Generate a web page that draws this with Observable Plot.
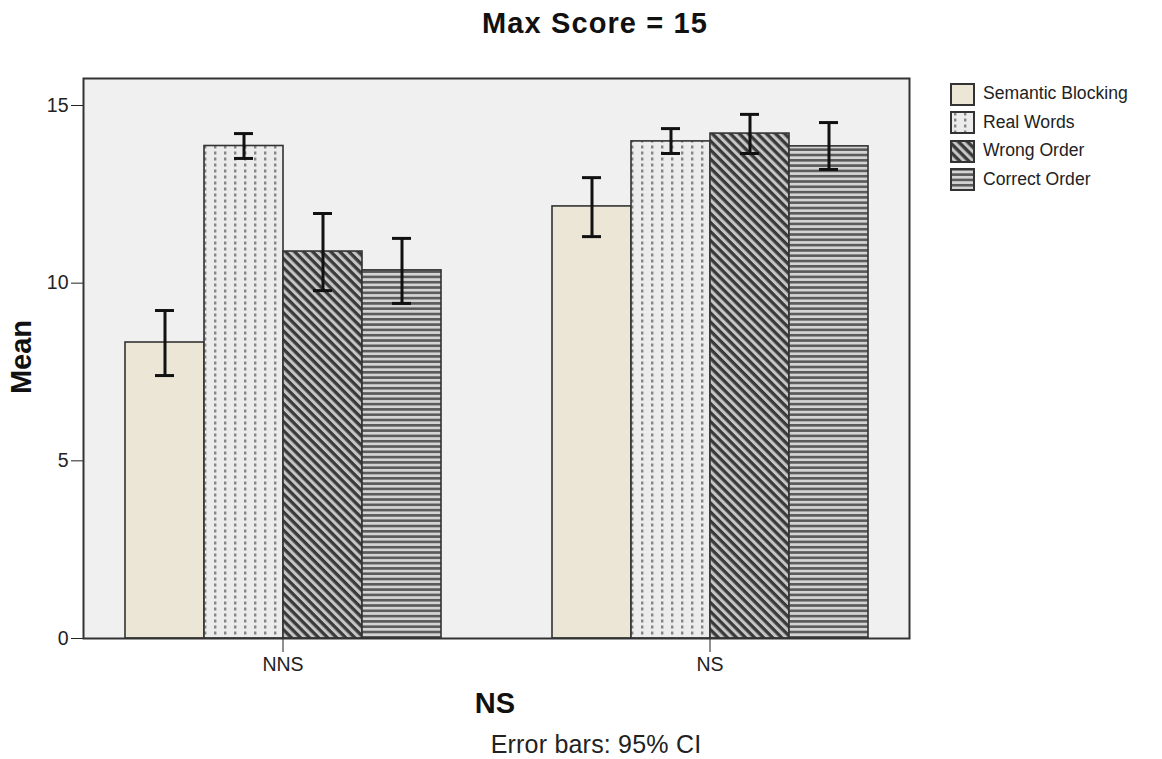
<!DOCTYPE html>
<html>
<head>
<meta charset="utf-8">
<script src="https://cdn.jsdelivr.net/npm/d3@7"></script>
<script src="https://cdn.jsdelivr.net/npm/@observablehq/plot@0.6"></script>
<style>
  html, body { margin: 0; padding: 0; background: #fff; }
  body { font-family: 'Liberation Sans', Arial, sans-serif; color: #222; }
  #wrap { position: relative; width: 1162px; height: 759px; overflow: hidden; }
  #chart { position: absolute; left: 0; top: 0; }
  .lab { position: absolute; transform: translate(-50%, -50%); line-height: 1; white-space: nowrap; }
  #title { left: 595px; top: 23px; font-size: 29px; font-weight: bold; letter-spacing: 1.1px; color: #111; }
  #xlab { left: 495px; top: 703px; font-size: 29px; font-weight: bold; color: #111; }
  #ylab { left: 21px; top: 357px; font-size: 29px; font-weight: bold; color: #111; transform: translate(-50%, -50%) rotate(-90deg); }
  #caption { left: 596px; top: 744px; font-size: 25px; letter-spacing: 0.2px; color: #222; }
  #legend { position: absolute; left: 950px; top: 80px; }
  .row { display: flex; align-items: center; height: 28.5px; }
  .row svg { display: block; margin-right: 8px; }
  .row span { font-size: 17.6px; line-height: 1; color: #222; }
</style>
</head>
<body>
<svg width="0" height="0" style="position:absolute">
  <defs>
    <pattern id="dots" patternUnits="userSpaceOnUse" width="10" height="6">
      <rect width="10" height="6" fill="#ececec"/>
      <rect x="4" y="1.5" width="2.4" height="3" fill="#858585"/>
    </pattern>
    <pattern id="diag" patternUnits="userSpaceOnUse" width="6.4" height="6.4" patternTransform="rotate(45)">
      <rect width="6.4" height="6.4" fill="#c6c6c6"/>
      <rect width="6.4" height="3.3" fill="#3a3a3a"/>
    </pattern>
    <pattern id="horiz" patternUnits="userSpaceOnUse" width="8" height="5.3">
      <rect width="8" height="5.3" fill="#d4d4d4"/>
      <rect width="8" height="2.6" fill="#5a5a5a"/>
    </pattern>
  </defs>
</svg>
<div id="wrap">
  <div id="chart"></div>
  <div id="title" class="lab">Max Score = 15</div>
  <div id="xlab" class="lab">NS</div>
  <div id="ylab" class="lab">Mean</div>
  <div id="caption" class="lab">Error bars: 95% CI</div>
  <div id="legend"></div>
</div>
<script>
const groups = ["NNS", "NS"];
const conditions = ["Semantic Blocking", "Real Words", "Wrong Order", "Correct Order"];
const meanNNS = [8.33, 13.86, 10.89, 10.36];
const lowNNS  = [7.40, 13.51, 9.79, 9.43];
const highNNS = [9.23, 14.21, 11.96, 11.26];
const meanNS  = [12.16, 13.99, 14.21, 13.85];
const lowNS   = [11.31, 13.65, 13.65, 13.20];
const highNS  = [12.97, 14.35, 14.75, 14.52];
const yTicks = [0, 5, 10, 15];
const fills = ["#ebe6d5", "url(#dots)", "url(#diag)", "url(#horiz)"];

const means = [meanNNS, meanNS], lows = [lowNNS, lowNS], highs = [highNNS, highNS];
const rows = groups.flatMap((g, gi) => conditions.map((c, ci) => ({
  group: g, condition: c, mean: means[gi][ci], lo: lows[gi][ci], hi: highs[gi][ci]
})));

const chart = Plot.plot({
  width: 930,
  height: 759,
  marginTop: 78,
  marginBottom: 121,
  marginLeft: 83,
  marginRight: 21,
  style: {fontFamily: "'Liberation Sans', Arial, sans-serif", fontSize: "19.5px", color: "#222", background: "transparent", overflow: "visible"},
  facet: {data: rows, x: "group"},
  fx: {domain: groups, axis: "bottom", paddingInner: 0.066, paddingOuter: 0, tickSize: 14, tickPadding: 5, label: null},
  x: {domain: conditions, paddingInner: 0, paddingOuter: 0.525, axis: null},
  y: {domain: [0, 15.76], ticks: yTicks, tickSize: 12, tickPadding: 3, label: null},
  color: {type: "ordinal", domain: conditions, range: fills},
  marks: [
    Plot.frame({facet: "super", fill: "#f0f0f0"}),
    Plot.barY(rows, {x: "condition", y: "mean", fill: "condition", stroke: "#333", strokeWidth: 1.6}),
    Plot.ruleX(rows, {x: "condition", y1: "lo", y2: "hi", stroke: "#111", strokeWidth: 3}),
    Plot.tickY(rows, {x: "condition", y: "hi", insetLeft: 30, insetRight: 30, stroke: "#111", strokeWidth: 3}),
    Plot.tickY(rows, {x: "condition", y: "lo", insetLeft: 30, insetRight: 30, stroke: "#111", strokeWidth: 3}),
    Plot.frame({facet: "super", stroke: "#333", strokeWidth: 2})
  ]
});
document.getElementById("chart").appendChild(chart);

const legend = d3.select("#legend");
conditions.forEach((c, i) => {
  const row = legend.append("div").attr("class", "row");
  const s = row.append("svg").attr("width", 25).attr("height", 23);
  s.append("rect").attr("x", 1).attr("y", 1).attr("width", 23).attr("height", 21)
    .attr("fill", fills[i]).attr("stroke", "#333").attr("stroke-width", 2);
  row.append("span").text(c);
});
</script>
</body>
</html>
